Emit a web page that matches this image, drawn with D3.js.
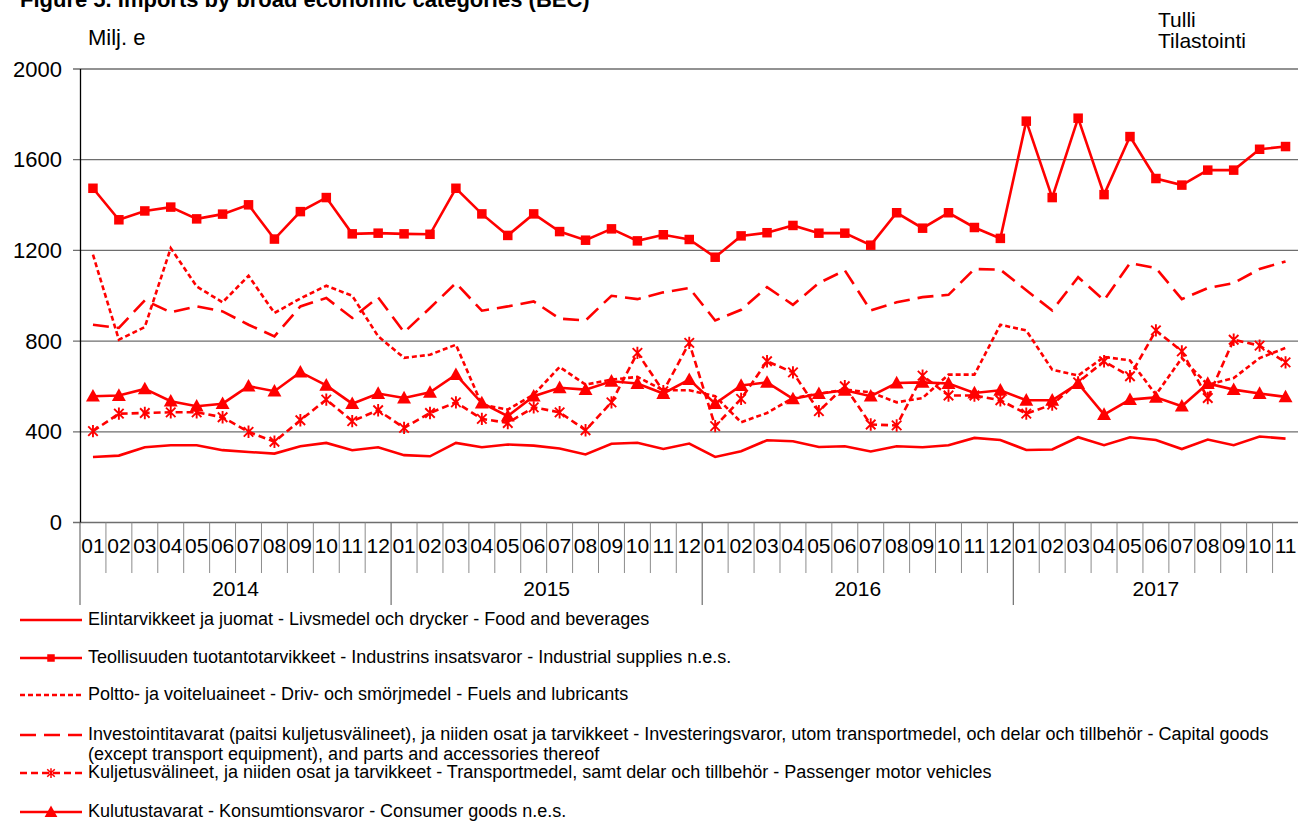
<!DOCTYPE html>
<html>
<head>
<meta charset="utf-8">
<script src="https://cdn.jsdelivr.net/npm/d3@7"></script>
<style>
  body { margin: 0; background: #fff; }
  svg { display: block; font-family: "Liberation Sans", Arial, sans-serif; }
</style>
</head>
<body>
<script>
// months 2014-01 .. 2017-11
var years = ["2014", "2015", "2016", "2017"];
var monthLabels = ["01","02","03","04","05","06","07","08","09","10","11","12"];

var food = [289, 295, 332, 341, 341, 319, 311, 304, 336, 351, 319, 332,
            297, 292, 351, 332, 344, 339, 326, 300, 347, 352, 324, 348,
            289, 314, 363, 358, 333, 336, 313, 336, 332, 341, 373, 364,
            320, 322, 376, 341, 376, 364, 324, 366, 341, 379, 370];
var industrial = [1474, 1335, 1374, 1391, 1339, 1360, 1401, 1250, 1371, 1433, 1273, 1276,
                  1273, 1271, 1474, 1361, 1266, 1361, 1283, 1245, 1295, 1242, 1269, 1248,
                  1170, 1264, 1278, 1310, 1276, 1276, 1223, 1366, 1298, 1366, 1301, 1253,
                  1770, 1433, 1783, 1446, 1702, 1517, 1488, 1554, 1554, 1646, 1658];
var fuels = [1181, 806, 862, 1210, 1041, 971, 1088, 924, 988, 1044, 1000, 821,
             726, 740, 784, 520, 498, 564, 686, 608, 630, 642, 583, 583,
             557, 442, 483, 549, 568, 586, 574, 530, 549, 652, 652, 872,
             847, 674, 648, 730, 715, 564, 725, 608, 637, 725, 770];
var capital = [872, 858, 980, 927, 953, 931, 872, 821, 953, 990, 902, 993,
               839, 946, 1056, 934, 953, 975, 899, 891, 1000, 985, 1015, 1034,
               891, 938, 1038, 960, 1056, 1112, 935, 971, 994, 1004, 1118, 1115,
               1024, 935, 1082, 980, 1144, 1122, 985, 1034, 1056, 1118, 1151];
var transport = [403, 480, 483, 486, 486, 464, 400, 356, 451, 542, 447, 495,
                 417, 483, 530, 457, 439, 508, 486, 407, 530, 748, 579, 792,
                 425, 545, 711, 662, 491, 601, 432, 428, 648, 560, 560, 539,
                 480, 520, 618, 711, 645, 847, 755, 549, 806, 780, 706];
var consumer = [557, 560, 589, 535, 513, 524, 601, 579, 663, 605, 524, 569,
                549, 574, 652, 527, 469, 557, 594, 586, 623, 613, 569, 630,
                524, 604, 618, 545, 568, 583, 557, 615, 618, 613, 571, 583,
                539, 539, 613, 476, 542, 552, 513, 613, 586, 569, 554];

var yTicks = [0, 400, 800, 1200, 1600, 2000];

var legendLabels = [
  ["Elintarvikkeet ja juomat - Livsmedel och drycker - Food and beverages"],
  ["Teollisuuden tuotantotarvikkeet - Industrins insatsvaror - Industrial supplies n.e.s."],
  ["Poltto- ja voiteluaineet - Driv- och smörjmedel - Fuels and lubricants"],
  ["Investointitavarat (paitsi kuljetusvälineet), ja niiden osat ja tarvikkeet - Investeringsvaror, utom transportmedel, och delar och tillbehör - Capital goods",
   "(except transport equipment), and parts and accessories thereof"],
  ["Kuljetusvälineet, ja niiden osat ja tarvikkeet - Transportmedel, samt delar och tillbehör - Passenger motor vehicles"],
  ["Kulutustavarat - Konsumtionsvaror - Consumer goods n.e.s."]
];

var series = [
  {values: food, dash: null, marker: null},
  {values: industrial, dash: null, marker: "square"},
  {values: fuels, dash: "5,3", marker: null},
  {values: capital, dash: "16,8", marker: null},
  {values: transport, dash: "7,4", marker: "star"},
  {values: consumer, dash: null, marker: "triangle"}
];
var legendY = [620, 658, 695, 735, 773, 812];

var red = "#ff0000";
var width = 1298, height = 821;

var months = d3.range(food.length);

var x = d3.scaleBand()
        .domain(months)
        .range([80, 1298.5]);

var y = d3.scaleLinear()
        .domain([0, 2000])
        .range([522.5, 69]);

var svg = d3.select("body").append("svg")
        .attr("width", width)
        .attr("height", height);

// title, sitting at the very top like the original
svg.append("text")
        .attr("x", 20)
        .attr("y", 7)
        .style("font-weight", "bold")
        .style("font-size", "22px")
        .text("Figure 5. Imports by broad economic categories (BEC)");

svg.append("text")
        .attr("x", 88)
        .attr("y", 45)
        .style("font-size", "22px")
        .text("Milj. e");

svg.append("text")
        .attr("x", 1158)
        .attr("y", 27)
        .style("font-size", "21px")
        .text("Tulli");
svg.append("text")
        .attr("x", 1158)
        .attr("y", 48)
        .style("font-size", "21px")
        .text("Tilastointi");

// gridlines
svg.append("g")
        .selectAll("line")
        .data(yTicks)
        .enter().append("line")
        .attr("x1", 73)
        .attr("x2", 1298)
        .attr("y1", function(d) { return y(d); })
        .attr("y2", function(d) { return y(d); })
        .attr("stroke", "#6e6e6e")
        .attr("stroke-width", 1.3);

var yAxis = d3.axisLeft(y)
        .tickValues(yTicks)
        .tickFormat(d3.format("d"))
        .tickSize(0)
        .tickPadding(18);

svg.append("g")
        .attr("class", "y axis")
        .attr("transform", "translate(80,0)")
        .call(yAxis)
        .call(function(g) { g.select(".domain").remove(); })
        .selectAll("text")
        .style("font-size", "22px")
        .style("font-family", "Liberation Sans, Arial, sans-serif")
        .attr("fill", "#000");

svg.append("line")
        .attr("x1", 80.5).attr("x2", 80.5)
        .attr("y1", y(2000)).attr("y2", y(0))
        .attr("stroke", "#000")
        .attr("stroke-width", 1.3);

// category axis: month ticks and year separators
var step = x.step();
svg.append("g")
        .selectAll("line")
        .data(months.slice(1).filter(function(i) { return i % 12 != 0; }))
        .enter().append("line")
        .attr("x1", function(i) { return x(i); })
        .attr("x2", function(i) { return x(i); })
        .attr("y1", y(0))
        .attr("y2", 573)
        .attr("stroke", "#8c8c8c")
        .attr("stroke-width", 1);

svg.append("g")
        .selectAll("line")
        .data(years)
        .enter().append("line")
        .attr("x1", function(d, i) { return x(i * 12); })
        .attr("x2", function(d, i) { return x(i * 12); })
        .attr("y1", y(0))
        .attr("y2", 605)
        .attr("stroke", "#6e6e6e")
        .attr("stroke-width", 1.2);

svg.append("g")
        .selectAll("text")
        .data(months)
        .enter().append("text")
        .attr("x", function(i) { return x(i) + step / 2; })
        .attr("y", 547)
        .attr("text-anchor", "middle")
        .attr("dominant-baseline", "middle")
        .style("font-size", "21px")
        .text(function(i) { return monthLabels[i % 12]; });

svg.append("g")
        .selectAll("text")
        .data(years)
        .enter().append("text")
        .attr("x", function(d, i) {
          var last = Math.min(i * 12 + 11, months.length - 1);
          return (x(i * 12) + x(last) + step) / 2;
        })
        .attr("y", 590)
        .attr("text-anchor", "middle")
        .attr("dominant-baseline", "middle")
        .style("font-size", "21px")
        .text(function(d) { return d; });

// series
var line = d3.line()
        .x(function(d, i) { return x(i) + step / 2; })
        .y(function(d) { return y(d); });

var starPath = "M-5,-5L5,5M-5,5L5,-5M0,-6.5L0,6.5";

function drawMarker(g, type, cx, cy, size) {
  if (type == "square") {
    g.append("rect")
        .attr("x", cx - size / 2).attr("y", cy - size / 2)
        .attr("width", size).attr("height", size)
        .attr("fill", red);
  } else if (type == "triangle") {
    var h = size;
    g.append("path")
        .attr("d", "M" + cx + "," + (cy - h * 0.6) + "L" + (cx + h * 0.58) + "," + (cy + h * 0.45) +
                   "L" + (cx - h * 0.58) + "," + (cy + h * 0.45) + "Z")
        .attr("fill", red);
  } else if (type == "star") {
    g.append("path")
        .attr("d", starPath)
        .attr("transform", "translate(" + cx + "," + cy + ") scale(" + size / 10 + ")")
        .attr("fill", "none")
        .attr("stroke", red)
        .attr("stroke-width", 2);
  }
}

var plot = svg.append("g").attr("class", "series");

series.forEach(function(s) {
  plot.append("path")
        .datum(s.values)
        .attr("d", line)
        .attr("fill", "none")
        .attr("stroke", red)
        .attr("stroke-width", 2.6)
        .attr("stroke-dasharray", s.dash);
  if (s.marker) {
    var mg = plot.append("g");
    s.values.forEach(function(v, i) {
      drawMarker(mg, s.marker, x(i) + step / 2, y(v), s.marker == "triangle" ? 12 : 9.5);
    });
  }
});

// legend
var legend = svg.append("g").attr("class", "legend");
series.forEach(function(s, k) {
  var ly = legendY[k];
  legend.append("line")
        .attr("x1", 20).attr("x2", 82)
        .attr("y1", ly).attr("y2", ly)
        .attr("stroke", red)
        .attr("stroke-width", 2.4)
        .attr("stroke-dasharray", s.dash);
  if (s.marker) drawMarker(legend, s.marker, 51, ly, s.marker == "triangle" ? 11 : 7.5);
  legendLabels[k].forEach(function(t, j) {
    legend.append("text")
        .attr("x", 88)
        .attr("y", ly + j * 20)
        .attr("dominant-baseline", "middle")
        .style("font-size", "18px")
        .text(t);
  });
});
</script>
</body>
</html>
